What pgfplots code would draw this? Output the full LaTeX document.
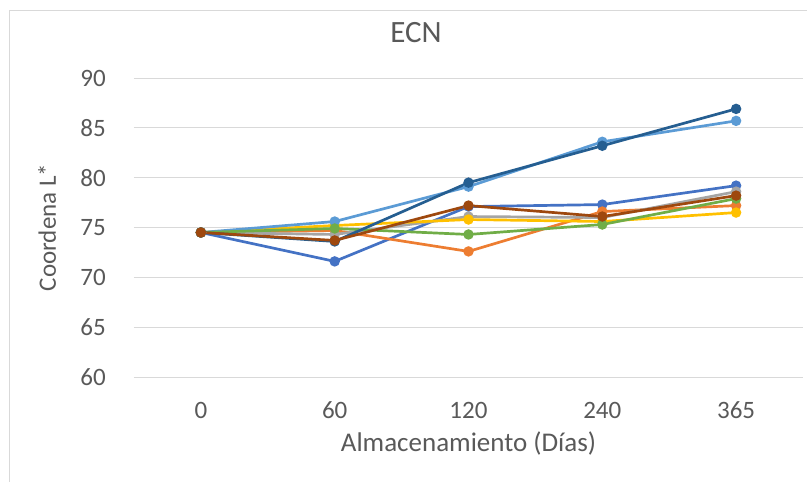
\documentclass[border=0pt]{standalone}
\usepackage{pgfplots}
\pgfplotsset{compat=1.18}
\usepackage{fontspec}
\setmainfont{Carlito}
\definecolor{txt}{HTML}{595959}
\definecolor{grd}{HTML}{D9D9D9}
\definecolor{cA}{HTML}{4472C4}
\definecolor{cB}{HTML}{ED7D31}
\definecolor{cC}{HTML}{A5A5A5}
\definecolor{cD}{HTML}{FFC000}
\definecolor{cE}{HTML}{5B9BD5}
\definecolor{cF}{HTML}{70AD47}
\definecolor{cG}{HTML}{255E91}
\definecolor{cH}{HTML}{9E480E}
\begin{document}
\begin{tikzpicture}[x=1pt,y=1pt]
\begin{axis}[
  scale only axis, width=669pt, height=299pt,
  at={(0,0)}, anchor=south west,
  xmin=-0.5, xmax=4.5, ymin=60, ymax=90,
  xtick={0,1,2,3,4}, xticklabels={0,60,120,240,365},
  ytick={60,65,70,75,80,85,90},
  ymajorgrids, grid style={grd, line width=1pt},
  axis line style={draw=none}, major tick length=0pt,
  /pgf/number format/assume math mode=true,
  tick label style={font=\fontsize{25}{30}\selectfont, text=txt},
  yticklabel style={inner sep=0pt, anchor=east, xshift=-28pt},
  xticklabel style={inner sep=0pt, anchor=base, yshift=-41pt},
  xlabel={Almacenamiento (Días)},
  xlabel style={at={(axis description cs:0.5,0)}, anchor=base, yshift=-74pt, inner sep=0pt, font=\fontsize{27}{32}\selectfont, text=txt},
  ylabel={Coordena L*},
  ylabel style={at={(axis description cs:-0.130,0.5)}, anchor=center, inner sep=0pt, font=\fontsize{25}{30}\selectfont, text=txt},
  title={ECN},
  title style={at={(axis description cs:0.4215,1.100)}, anchor=base, inner sep=0pt, font=\fontsize{31}{36}\selectfont, text=txt},
  every axis plot/.append style={line width=2.7pt, mark=*, mark size=3.8pt, mark options={solid}},
  clip=false,
]
\addplot[cA, mark options={fill=cA}] coordinates {(0,74.5) (1,71.6) (2,77.1) (3,77.3) (4,79.2)};
\addplot[cB, mark options={fill=cB}] coordinates {(0,74.5) (1,74.7) (2,72.6) (3,76.6) (4,77.2)};
\addplot[cC, mark options={fill=cC}] coordinates {(0,74.5) (1,74.3) (2,76.1) (3,76.0) (4,78.6)};
\addplot[cD, mark options={fill=cD}] coordinates {(0,74.5) (1,75.2) (2,75.8) (3,75.6) (4,76.5)};
\addplot[cE, mark options={fill=cE}] coordinates {(0,74.5) (1,75.6) (2,79.1) (3,83.6) (4,85.7)};
\addplot[cF, mark options={fill=cF}] coordinates {(0,74.5) (1,74.9) (2,74.3) (3,75.3) (4,77.9)};
\addplot[cG, mark options={fill=cG}] coordinates {(0,74.5) (1,73.6) (2,79.5) (3,83.2) (4,86.9)};
\addplot[cH, mark options={fill=cH}] coordinates {(0,74.5) (1,73.7) (2,77.2) (3,76.1) (4,78.2)};
\end{axis}
\pgfresetboundingbox
\useasboundingbox (-134,-105) rectangle (673,377);
\draw[grd, line width=1pt] (-124,-105) -- (-124,366) -- (673,366);
\end{tikzpicture}
\end{document}
